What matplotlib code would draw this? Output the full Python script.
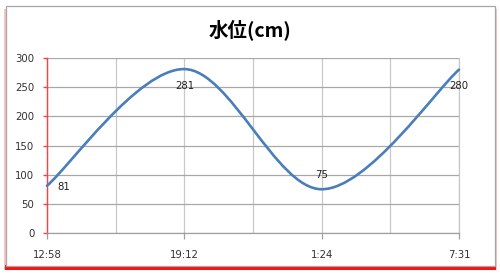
import matplotlib
matplotlib.use("Agg")
import matplotlib.pyplot as plt
import numpy as np
from matplotlib.path import Path
from matplotlib.patches import PathPatch, Rectangle

times = ["12:58", "19:12", "1:24", "7:31"]
levels = [81, 281, 75, 280]
title = "水位(cm)"
yticks = [0, 50, 100, 150, 200, 250, 300]

W, H = 500, 275
fig = plt.figure(figsize=(W / 100, H / 100), dpi=100)

def fx(px):
    return px / W

def fy(py):
    return 1 - py / H

# frame with red shadow
fig.patches.append(Rectangle((fx(4), fy(270)), fx(493), (270 - 9) / H, transform=fig.transFigure,
                             facecolor="#f8c4c4", edgecolor="none", zorder=0))
fig.patches.append(Rectangle((fx(5), fy(270)), fx(491), 5 / H, transform=fig.transFigure,
                             facecolor="#ff1010", edgecolor="none", zorder=0))
fig.patches.append(Rectangle((fx(5.5), fy(265.5)), fx(489.5), (265.5 - 6) / H, transform=fig.transFigure,
                             facecolor="white", edgecolor="#a6a6a6", linewidth=0.9, zorder=1))

ax = fig.add_axes([fx(47), fy(233), fx(459 - 47), (233 - 58) / H])
ax.set_zorder(2)
ax.patch.set_alpha(0)

x = np.arange(len(levels), dtype=float)
y = np.array(levels, dtype=float)

# smoothed line (Catmull-Rom style Bezier, as in spreadsheet smoothing)
pts = np.column_stack([x, y])
verts = [tuple(pts[0])]
codes = [Path.MOVETO]
n = len(pts)
for i in range(n - 1):
    p0 = pts[i - 1] if i > 0 else pts[i]
    p1 = pts[i]
    p2 = pts[i + 1]
    p3 = pts[i + 2] if i + 2 < n else pts[i + 1]
    c1 = p1 + (p2 - p0) / 6
    c2 = p2 - (p3 - p1) / 6
    verts += [tuple(c1), tuple(c2), tuple(p2)]
    codes += [Path.CURVE4] * 3
ax.add_patch(PathPatch(Path(verts, codes), facecolor="none", edgecolor="#4a7ebb",
                       linewidth=1.9, zorder=3, capstyle="round", clip_on=False))

ax.set_xlim(0, n - 1)
ax.set_ylim(0, 300)
ax.set_xticks(x)
ax.set_xticklabels(times)
ax.set_xticks(np.arange(0.5, n - 1, 1.0), minor=True)
ax.set_yticks(yticks)

ax.grid(axis="y", which="major", color="#a8a8a8", linewidth=0.9, zorder=1)
ax.grid(axis="x", which="both", color="#c8c8c8", linewidth=0.9, zorder=1)
ax.set_axisbelow(True)

ax.spines["top"].set_visible(False)
ax.spines["right"].set_color("#c8c8c8")
ax.spines["right"].set_linewidth(0.9)
ax.spines["left"].set_color("#ff4040")
ax.spines["left"].set_linewidth(1.0)
ax.spines["bottom"].set_color("#a0a0a0")
ax.spines["bottom"].set_linewidth(0.9)

ax.tick_params(axis="y", colors="#ff4040", labelcolor="#303030", length=3, width=1.0, labelsize=7.3, pad=6)
ax.tick_params(axis="x", which="major", colors="#a0a0a0", labelcolor="#303030", length=4, width=0.9,
               labelsize=7.3, pad=8)
ax.tick_params(axis="x", which="minor", length=0)

# data labels
offsets = [(10, -1, "left", "center"), (0, -17, "center", "center"),
           (0, 14, "center", "center"), (0, -16, "center", "center")]
for xi, yi, (dx, dy, ha, va) in zip(x, levels, offsets):
    ax.annotate(str(yi), (xi, yi), xytext=(dx * 0.72, dy * 0.72), textcoords="offset points",
                ha=ha, va=va, fontsize=7.3, color="#202020", zorder=4, annotation_clip=False)

fig.text(0.5, fy(30), title, ha="center", va="center", fontsize=14, fontweight="bold",
         family=["Noto Sans CJK JP", "DejaVu Sans"], color="#000000")

fig.savefig("out.png", dpi=100)
